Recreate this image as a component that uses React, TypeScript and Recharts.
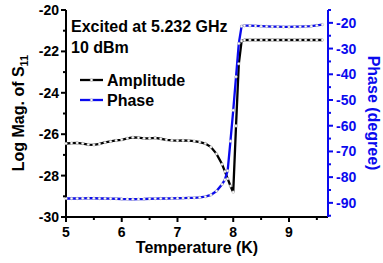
import React from "react";
import { LineChart, Line, XAxis, YAxis } from "recharts";

// temperature (K)
const temperature = [
  5.0, 5.1, 5.2, 5.3, 5.4, 5.5, 5.6, 5.7, 5.8, 5.9,
  6.0, 6.1, 6.2, 6.3, 6.4, 6.5, 6.6, 6.7, 6.8, 6.9,
  7.0, 7.1, 7.2, 7.3, 7.4, 7.5, 7.6, 7.7, 7.8, 7.85,
  7.9, 7.95, 8.0, 8.05, 8.1, 8.15, 8.2, 8.3, 8.4, 8.5,
  8.6, 8.7, 8.8, 8.9, 9.0, 9.1, 9.2, 9.3, 9.4, 9.5, 9.6,
];

// log magnitude of S11
const amplitude = [
  -26.45, -26.43, -26.42, -26.45, -26.5, -26.52, -26.47, -26.4, -26.35, -26.3,
  -26.27, -26.2, -26.15, -26.17, -26.2, -26.2, -26.18, -26.22, -26.27, -26.3,
  -26.31, -26.3, -26.31, -26.33, -26.38, -26.45, -26.62, -26.95, -27.45, -27.8,
  -28.15, -28.5, -28.8, -25.6, -22.6, -21.5, -21.45, -21.45, -21.45, -21.45,
  -21.45, -21.45, -21.45, -21.45, -21.45, -21.45, -21.45, -21.45, -21.45, -21.45, -21.45,
];

// phase (degree)
const phase = [
  -88.3, -88.3, -88.3, -88.25, -88.2, -88.2, -88.3, -88.3, -88.35, -88.4,
  -88.5, -88.55, -88.6, -88.55, -88.5, -88.4, -88.35, -88.3, -88.3, -88.25,
  -88.2, -88.15, -88.1, -88.05, -87.9, -87.6, -86.9, -85.4, -82.8, -81.0,
  -77.5, -66.0, -54.0, -41.0, -28.0, -21.3, -21.1, -21.1, -21.2, -21.3,
  -21.4, -21.5, -21.5, -21.6, -21.6, -21.5, -21.5, -21.4, -21.3, -21.0, -20.7,
];

const xTicks = [5, 5.5, 6, 6.5, 7, 7.5, 8, 8.5, 9, 9.5];
const leftTicks = [-30, -29, -28, -27, -26, -25, -24, -23, -22, -21, -20];
const rightTicks = [-95, -90, -85, -80, -75, -70, -65, -60, -55, -50, -45, -40, -35, -30, -25, -20, -15];

const data = temperature.map((t, i) => ({ t, amp: amplitude[i], phase: phase[i] }));

const BLUE = "#0a0aee";
const FONT = "'Liberation Sans', Arial, sans-serif";

const BottomTick = (props: any) => {
  const { x, y, payload } = props;
  const major = Number.isInteger(payload.value);
  return (
    <g>
      <line x1={x} x2={x} y1={y} y2={y + (major ? 5 : 3)} stroke="#000" strokeWidth={2} />
      {major && (
        <text x={x} y={y + 20} textAnchor="middle" fontSize={14} fontWeight="bold" fontFamily={FONT} fill="#000">
          {payload.value}
        </text>
      )}
    </g>
  );
};

const TopTick = (props: any) => {
  const { x, y, payload } = props;
  const major = Number.isInteger(payload.value);
  return <line x1={x} x2={x} y1={y} y2={y + (major ? 4 : 3)} stroke="#000" strokeWidth={1.5} />;
};

const LeftTick = (props: any) => {
  const { x, y, payload } = props;
  const major = payload.value % 2 === 0;
  return (
    <g>
      <line x1={x - (major ? 5 : 3)} x2={x} y1={y} y2={y} stroke="#000" strokeWidth={2} />
      {major && (
        <text x={x - 7} y={y} dy="0.36em" textAnchor="end" fontSize={14} fontWeight="bold" fontFamily={FONT} fill="#000">
          {payload.value}
        </text>
      )}
    </g>
  );
};

const RightTick = (props: any) => {
  const { x, y, payload } = props;
  const major = payload.value % 10 === 0;
  return (
    <g>
      <line x1={x} x2={x + (major ? 5 : 3)} y1={y} y2={y} stroke={BLUE} strokeWidth={2} />
      {major && (
        <text x={x + 8} y={y} dy="0.36em" textAnchor="start" fontSize={14} fontWeight="bold" fontFamily={FONT} fill={BLUE}>
          {payload.value}
        </text>
      )}
    </g>
  );
};

const dotStyle = { r: 1.3, fill: "#fff", stroke: "#aaa", strokeWidth: 0.5 };

export default function App() {
  return (
    <div style={{ position: "absolute", left: 0, top: 0, width: 383, height: 263 }}>
      <LineChart width={383} height={263} data={data} margin={{ top: 10, right: 0, bottom: 0, left: 0 }}>
        <XAxis
          dataKey="t"
          type="number"
          domain={[5, 9.7]}
          ticks={xTicks}
          height={46}
          tickSize={0}
          tickMargin={0}
          tickLine={false}
          tick={<BottomTick />}
          axisLine={{ stroke: "#000", strokeWidth: 2 }}
          interval={0}
        />
        <XAxis
          xAxisId="top"
          orientation="top"
          dataKey="t"
          type="number"
          domain={[5, 9.7]}
          ticks={xTicks}
          height={0}
          tickSize={0}
          tickMargin={0}
          tickLine={false}
          tick={<TopTick />}
          axisLine={{ stroke: "#000", strokeWidth: 2 }}
          interval={0}
        />
        <YAxis
          yAxisId="left"
          type="number"
          domain={[-30, -20]}
          ticks={leftTicks}
          width={66}
          tickSize={0}
          tickMargin={0}
          tickLine={false}
          tick={<LeftTick />}
          axisLine={{ stroke: "#000", strokeWidth: 2 }}
          interval={0}
        />
        <YAxis
          yAxisId="right"
          orientation="right"
          type="number"
          domain={[-95.5, -15]}
          ticks={rightTicks}
          width={55}
          tickSize={0}
          tickMargin={0}
          tickLine={false}
          tick={<RightTick />}
          axisLine={{ stroke: BLUE, strokeWidth: 2 }}
          interval={0}
        />
        <Line
          yAxisId="left"
          type="linear"
          dataKey="amp"
          stroke="#000"
          strokeWidth={2.3}
          dot={dotStyle}
          isAnimationActive={false}
        />
        <Line
          yAxisId="right"
          type="linear"
          dataKey="phase"
          stroke={BLUE}
          strokeWidth={2.3}
          dot={dotStyle}
          isAnimationActive={false}
        />
      </LineChart>
      <svg
        width={383}
        height={263}
        style={{ position: "absolute", left: 0, top: 0, pointerEvents: "none" }}
        fontFamily={FONT}
        fontWeight="bold"
      >
        <text x={71} y={32} fontSize={16}>Excited at 5.232 GHz</text>
        <text x={71} y={53} fontSize={16}>10 dBm</text>
        <line x1={80} x2={103} y1={80} y2={80} stroke="#000" strokeWidth={2.3} />
        <circle cx={91.5} cy={80} r={1.3} fill="#fff" stroke="#aaa" strokeWidth={0.5} />
        <text x={107} y={86} fontSize={16}>Amplitude</text>
        <line x1={80} x2={103} y1={100} y2={100} stroke={BLUE} strokeWidth={2.3} />
        <circle cx={91.5} cy={100} r={1.3} fill="#fff" stroke="#aaa" strokeWidth={0.5} />
        <text x={107} y={106} fontSize={16}>Phase</text>
        <text x={197} y={253} fontSize={16} textAnchor="middle">Temperature (K)</text>
        <text transform="translate(18,113) rotate(-90)" fontSize={16} textAnchor="middle" dy="0.35em">
          Log Mag. of S<tspan fontSize={11} dy={4}>11</tspan>
        </text>
        <text transform="translate(374,113) rotate(90)" fontSize={16} textAnchor="middle" dy="0.35em" fill={BLUE}>
          Phase (degree)
        </text>
      </svg>
    </div>
  );
}
